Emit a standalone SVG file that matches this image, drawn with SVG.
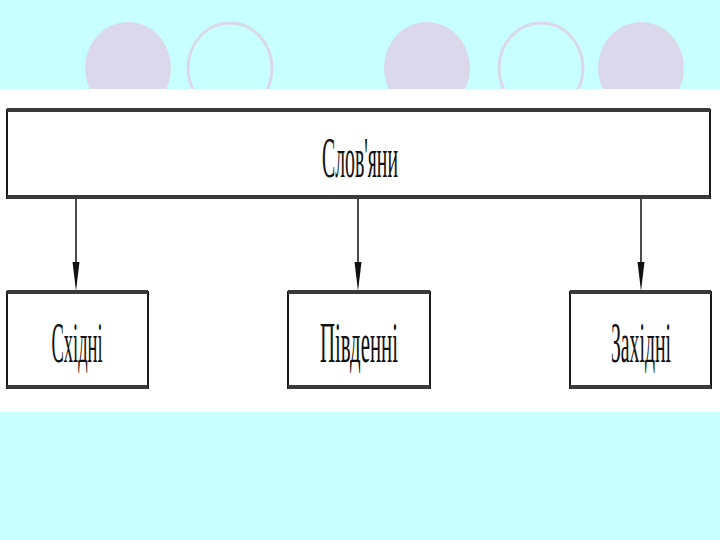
<svg xmlns="http://www.w3.org/2000/svg" width="720" height="540" viewBox="0 0 720 540">
  <defs>
    <style>
      .bg { fill: #c8ffff; }
      .band { fill: #ffffff; }
      .dot { fill: #dad8ea; }
      .ring { fill: none; stroke: #dad8ea; stroke-width: 3; }
      .box { fill: #ffffff; stroke: #1a1a1a; stroke-width: 2; }
      .hbar { stroke: #3a3a3a; stroke-width: 4; }
      .lbl { font-family: "Liberation Serif", "Times New Roman", serif; font-size: 56px; fill: #111111; text-anchor: middle; }
      .conn { stroke: #111111; stroke-width: 1.5; fill: none; }
      .head { fill: #111111; }
    </style>
    <clipPath id="top">
      <rect x="0" y="0" width="720" height="89"/>
    </clipPath>
  </defs>

  <rect class="bg" x="0" y="0" width="720" height="540"/>
  <g id="decor" clip-path="url(#top)">
    <ellipse class="dot" cx="128" cy="68" rx="43" ry="46"/>
    <ellipse class="ring" cx="230" cy="68" rx="42" ry="45"/>
    <ellipse class="dot" cx="427" cy="68" rx="43" ry="46"/>
    <ellipse class="ring" cx="541" cy="68" rx="42" ry="45"/>
    <ellipse class="dot" cx="641" cy="68" rx="43" ry="46"/>
  </g>
  <rect class="band" x="0" y="89" width="720" height="323"/>

  <g id="connectors">
    <line class="conn" x1="76" y1="199" x2="76" y2="262"/>
    <path class="head" d="M72.5,262 L79.5,262 L76,291 Z"/>
    <line class="conn" x1="358" y1="199" x2="358" y2="262"/>
    <path class="head" d="M354.5,262 L361.5,262 L358,291 Z"/>
    <line class="conn" x1="641" y1="199" x2="641" y2="262"/>
    <path class="head" d="M637.5,262 L644.5,262 L641,291 Z"/>
  </g>

  <g id="slovyany">
    <rect class="box" x="7" y="110" width="703" height="88"/>
    <line class="hbar" x1="7" y1="110" x2="710" y2="110"/>
    <line class="hbar" x1="7" y1="197" x2="710" y2="197"/>
    <g transform="translate(360,0) scale(0.36,1)">
      <text class="lbl" x="0" y="177" textLength="211" lengthAdjust="spacingAndGlyphs">Слов'яни</text>
    </g>
  </g>

  <g id="skhidni">
    <rect class="box" x="7" y="292" width="141" height="96"/>
    <line class="hbar" x1="7" y1="292" x2="148" y2="292"/>
    <line class="hbar" x1="7" y1="387" x2="148" y2="387"/>
    <g transform="translate(77,0) scale(0.36,1)">
      <text class="lbl" x="0" y="362" textLength="142" lengthAdjust="spacingAndGlyphs">Східні</text>
    </g>
  </g>

  <g id="pivdenni">
    <rect class="box" x="288" y="292" width="142" height="96"/>
    <line class="hbar" x1="288" y1="292" x2="430" y2="292"/>
    <line class="hbar" x1="288" y1="387" x2="430" y2="387"/>
    <g transform="translate(359,0) scale(0.36,1)">
      <text class="lbl" x="0" y="362" textLength="217" lengthAdjust="spacingAndGlyphs">Південні</text>
    </g>
  </g>

  <g id="zakhidni">
    <rect class="box" x="570" y="292" width="141" height="96"/>
    <line class="hbar" x1="570" y1="292" x2="711" y2="292"/>
    <line class="hbar" x1="570" y1="387" x2="711" y2="387"/>
    <g transform="translate(641,0) scale(0.36,1)">
      <text class="lbl" x="0" y="362" textLength="167" lengthAdjust="spacingAndGlyphs">Західні</text>
    </g>
  </g>
</svg>
